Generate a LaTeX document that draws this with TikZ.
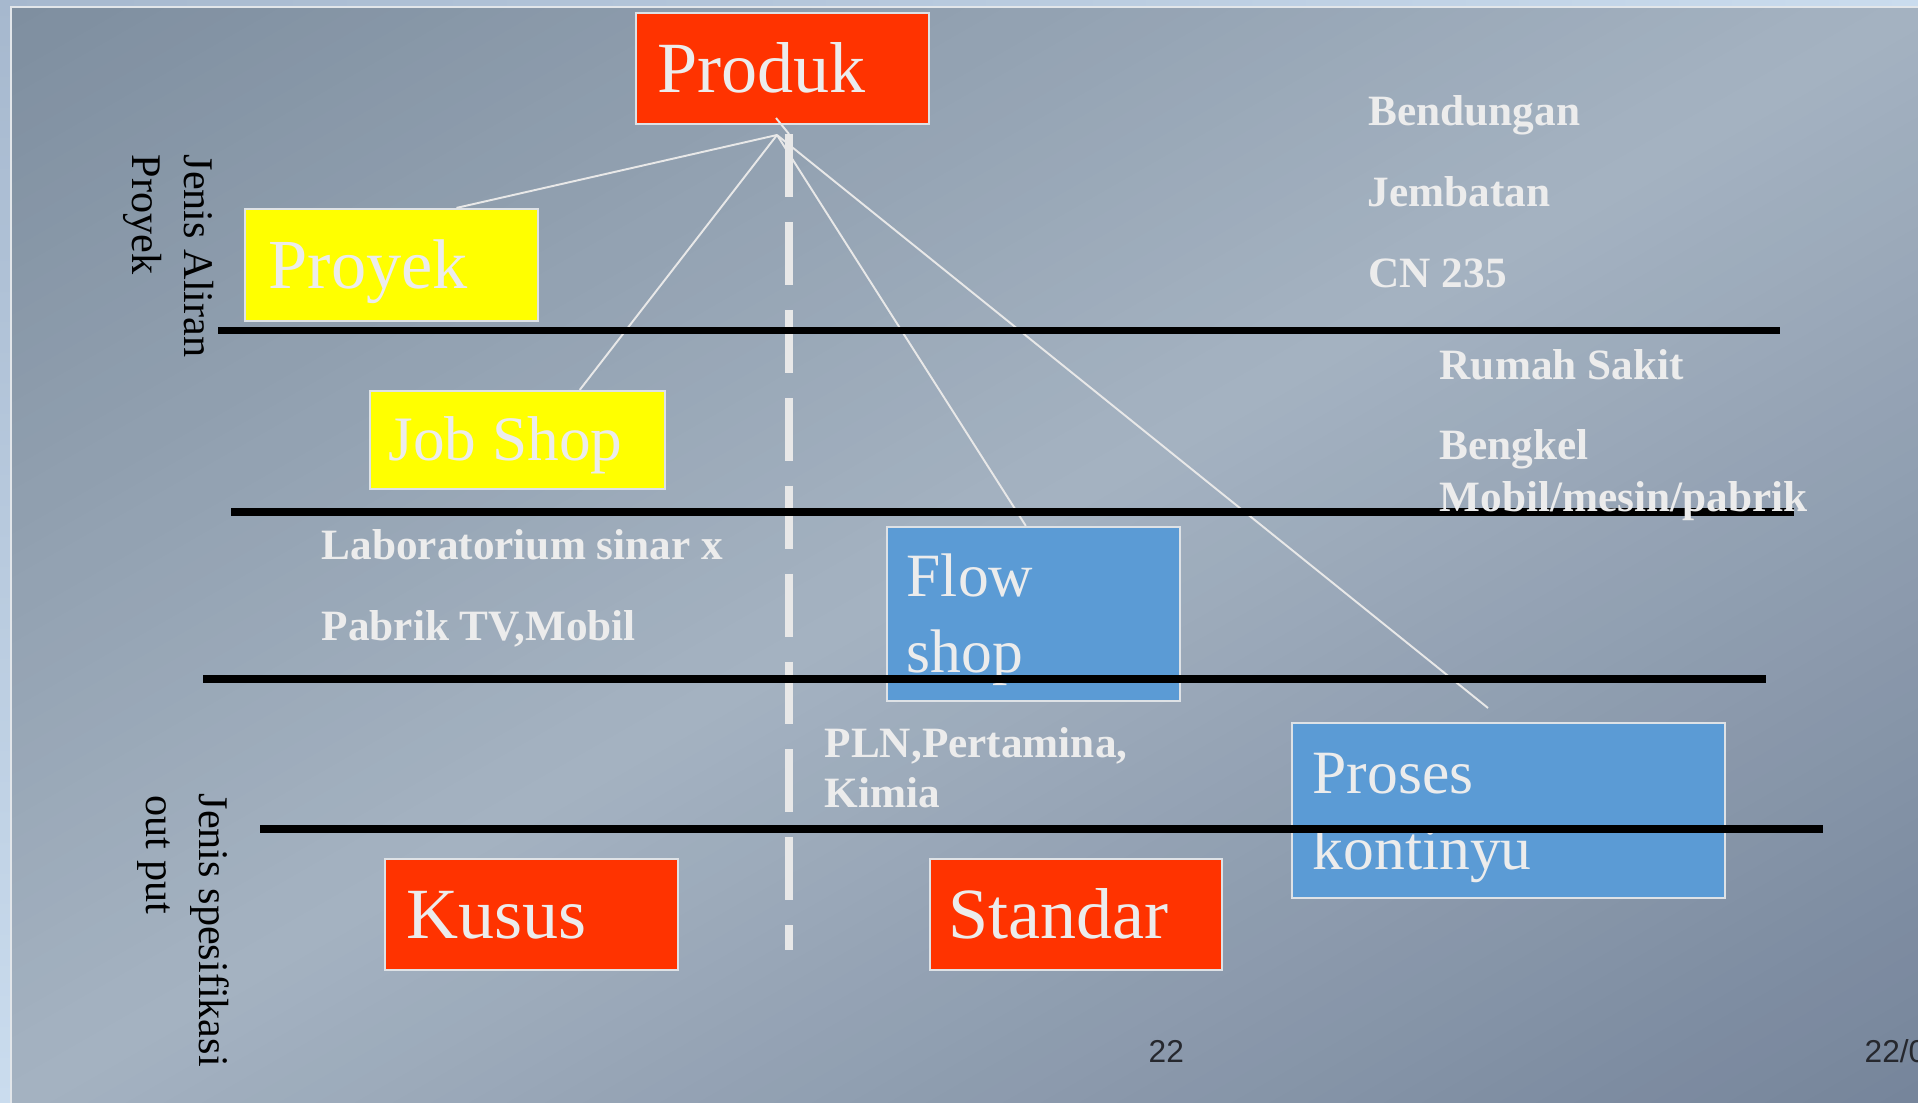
\documentclass[tikz,border=0pt]{standalone}
\usepackage{fontspec}
\setmainfont{Liberation Serif}
\newfontfamily\numfont{Liberation Sans}
\usetikzlibrary{calc}

\definecolor{slideframe}{RGB}{226,230,234}
\definecolor{outerdark}{RGB}{166,184,206}
\definecolor{outerlight}{RGB}{202,220,238}
\definecolor{boxred}{RGB}{255,51,0}
\definecolor{boxyellow}{RGB}{255,255,0}
\definecolor{boxblue}{RGB}{91,155,213}
\definecolor{boxedge}{RGB}{222,226,230}
\definecolor{lighttext}{RGB}{236,236,236}
\definecolor{guide}{RGB}{232,232,232}
\definecolor{pagenum}{RGB}{38,40,46}

\begin{document}
\begin{tikzpicture}[x=0.01cm,y=-0.01cm,
  tbox/.style={rectangle, draw=boxedge, line width=0.6pt, inner sep=0pt},
  redbox/.style={tbox, fill=boxred},
  yellowbox/.style={tbox, fill=boxyellow},
  bluebox/.style={tbox, fill=boxblue},
  boxtext/.style={text=lighttext, inner sep=0pt, anchor=base west},
  redtext/.style={boxtext, font=\fontsize{20.5}{24}\selectfont},
  yellowtext/.style={boxtext, font=\fontsize{20}{24}\selectfont},
  bluetext/.style={boxtext, font=\fontsize{17.5}{21}\selectfont},
  itemtext/.style={text=lighttext, inner sep=0pt, anchor=base west,
    font=\fontsize{12.3}{14}\selectfont\bfseries},
  sidetext/.style={text=black, inner sep=0pt, anchor=base west, rotate=-90,
    font=\fontsize{12}{14}\selectfont},
  pagetext/.style={text=pagenum, inner sep=0pt, anchor=base west,
    font=\numfont\fontsize{9}{11}\selectfont},
  divider/.style={black, line width=2.2pt},
  fanline/.style={draw=guide, line width=0.55pt},
  guideline/.style={guide, line width=2.2pt, dash pattern=on 17.9pt off 7.1pt},
]
\useasboundingbox (0,0) rectangle (1918,1103);

% outer margin and slide frame
\fill[outerlight] (0,0) rectangle (1918,1103);
\shade[left color=outerdark, right color=outerlight] (0,0) rectangle (1918,8);
\shade[top color=outerdark, bottom color=outerlight] (0,0) rectangle (11,1103);

% slide background: diagonal gradient, dark corners and a light middle band
\begin{scope}
  \clip (12,8) rectangle (1918,1103);
  \foreach \i in {0,...,99}{
    \pgfmathsetmacro\ca{\i/50}
    \pgfmathsetmacro\cb{(\i+1.4)/50}
    \pgfmathsetmacro\cm{(\i+0.5)/50}
    \pgfmathtruncatemacro\rr{\cm<1 ? 127+38*\cm : 165-47*(\cm-1)}
    \pgfmathtruncatemacro\gg{\cm<1 ? 143+36*\cm : 179-46*(\cm-1)}
    \pgfmathtruncatemacro\bb{\cm<1 ? 160+34*\cm : 194-39*(\cm-1)}
    \definecolor{stripcol}{RGB}{\rr,\gg,\bb}
    \fill[stripcol] ({12+\ca*1906},8) -- (12,{8+\ca*1095}) -- (12,{8+\cb*1095}) -- ({12+\cb*1906},8) -- cycle;
  }
\end{scope}
\draw[slideframe, line width=0.6pt] (11,1103) -- (11,7) -- (1918,7);

% dashed vertical separator
\coordinate (guidetop) at (789,134);
\coordinate (guidebottom) at (789,950);
\draw[guideline] (guidetop) -- (guidebottom);

% boxes
\node[redbox, minimum width=2.93cm, minimum height=1.11cm] (produk) at (782.5,68.5) {};
\node[redtext] (produktext) at (657,92) {Produk};

\node[yellowbox, minimum width=2.93cm, minimum height=1.12cm] (proyek) at (391.5,265) {};
\node[yellowtext] (proyektext) at (268,288) {Proyek};

\node[yellowbox, minimum width=2.94cm, minimum height=0.98cm] (jobshop) at (517.5,440) {};
\node[yellowtext, font=\fontsize{18}{22}\selectfont] (jobshoptext) at (388,460) {Job Shop};

\node[bluebox, minimum width=2.93cm, minimum height=1.74cm] (flowshop) at (1033.5,614) {};
\node[bluetext] (flowtext) at (906,596) {Flow};
\node[bluetext] (shoptext) at (906,672) {shop};

\node[bluebox, minimum width=4.33cm, minimum height=1.75cm] (proses) at (1508.5,810.5) {};
\node[bluetext] (prosestext) at (1312,793) {Proses};
\node[bluetext] (kontinyutext) at (1312,869) {kontinyu};

\node[redbox, minimum width=2.93cm, minimum height=1.11cm] (kusus) at (531.5,914.5) {};
\node[redtext] (kusustext) at (406,938) {Kusus};

\node[redbox, minimum width=2.92cm, minimum height=1.11cm] (standar) at (1076,914.5) {};
\node[redtext] (standartext) at (948,938) {Standar};

% fan of thin connectors from the product box
\coordinate (apex) at (777,135);
\coordinate (tickstart) at (776,118);
\coordinate (prosesend) at (1488,708);
\draw[fanline] (apex) -- ($(proyek.north west)!0.72!(proyek.north east)$);
\draw[fanline] (apex) -- ($(jobshop.north west)!0.71!(jobshop.north east)$);
\draw[fanline] (apex) -- ($(flowshop.north west)!0.474!(flowshop.north east)$);
\draw[fanline] (apex) -- (prosesend);
\draw[fanline] (tickstart) -- (guidetop);

% horizontal dividers
\draw[divider] (218,330.5) -- (1780,330.5);
\draw[divider] (231,512) -- (1794,512);
\draw[divider] (203,679) -- (1766,679);
\draw[divider] (260,829) -- (1823,829);

% examples
\node[itemtext] (bendungan) at (1368,125) {Bendungan};
\node[itemtext] (jembatan) at (1367,206) {Jembatan};
\node[itemtext] (cn) at (1368,287) {CN 235};
\node[itemtext] (rumahsakit) at (1439,379) {Rumah Sakit};
\node[itemtext] (bengkel) at (1439,459) {Bengkel};
\node[itemtext] (bengkelb) at (1439,511) {Mobil/mesin/pabrik};
\node[itemtext] (lab) at (321,559) {Laboratorium sinar x};
\node[itemtext] (pabrik) at (321,640) {Pabrik TV,Mobil};
\node[itemtext] (pln) at (824,757) {PLN,Pertamina,};
\node[itemtext] (kimia) at (824,807) {Kimia};

% axis captions
\node[sidetext] (jenisaliran) at (184,154) {Jenis Aliran};
\node[sidetext] (proyekside) at (132,154) {Proyek};
\node[sidetext] (jenisspek) at (199,793) {Jenis spesifikasi};
\node[sidetext] (outputside) at (146,795) {out put};

% footer
\node[pagetext] (pagenumber) at (1148,1062) {22};
\node[pagetext] (pagedate) at (1864,1062) {22/0};
\end{tikzpicture}
\end{document}
